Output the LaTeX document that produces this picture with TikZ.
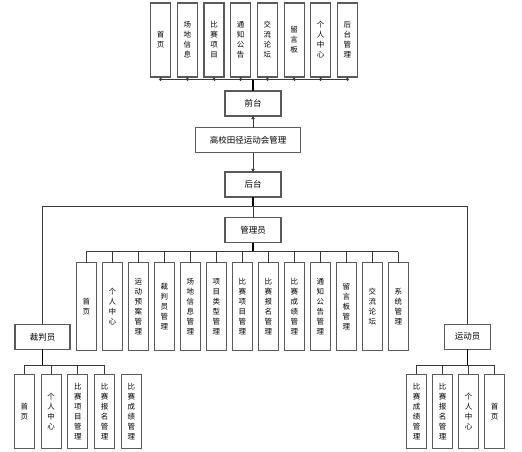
\documentclass[tikz,border=0pt]{standalone}
\usepackage{fontspec}
\newfontfamily\cjk{Noto Sans CJK SC}
\usetikzlibrary{arrows.meta,positioning}
\definecolor{boxline}{HTML}{5A5A5A}
\definecolor{wire}{HTML}{3A3A3A}
\tikzset{
    every picture/.style={line cap=butt,line join=miter},
    menubox/.style={draw=boxline,fill=white,line width=1.1pt,
      minimum width=20pt,inner sep=0pt,outer sep=0pt,
      font=\cjk\fontsize{7.5}{10}\selectfont,align=center},
    rolebox/.style={draw=boxline,fill=white,line width=1.1pt,
      minimum width=56pt,minimum height=25pt,inner sep=0pt,outer sep=0pt,
      font=\cjk\fontsize{8.5}{10}\selectfont},
    trunk/.style={draw=black,line width=1.4pt},
    branch/.style={draw=wire,line width=0.75pt},
    uparrow/.style={branch,-{Triangle[length=3.2pt,width=3.6pt]}}
}

\begin{document}
\begin{tikzpicture}[x=1pt,y=-1pt]
  \useasboundingbox (0,0) rectangle (522,451);

  % front-end menu
  \foreach \lbl [count=\i from 0] in {{首\\页},{场\\地\\信\\息},{比\\赛\\项\\目},
      {通\\知\\公\\告},{交\\流\\论\\坛},{留\\言\\板},{个\\人\\中\\心},{后\\台\\管\\理}}
    \node[menubox,minimum height=74pt] (front\i) at ({160.7+26.67*\i},40) {\lbl};

  \node[rolebox] (qian) at (253,103.5) {前台};
  \node[rolebox,minimum width=105pt] (sys) at (248.2,140.2) {高校田径运动会管理};
  \node[rolebox] (hou) at (253,184.5) {后台};

  \coordinate (fbus) at (253,79.7);
  \draw[trunk] (qian.north) -- (fbus);
  \draw[branch] (front0.south |- fbus) -- (front7.south |- fbus);
  \foreach \i in {0,...,7}
    \draw[uparrow] (front\i.south |- fbus) -- (front\i.south);
  \draw[uparrow] (qian.south |- sys.north) -- (qian.south);
  \draw[uparrow] (hou.north |- sys.south) -- (hou.north);

  % back-end roles
  \node[rolebox] (admin) at (253,230) {管理员};
  \node[rolebox,minimum width=55pt] (judge) at (42.5,336.8) {裁判员};
  \node[rolebox,minimum width=46pt] (athlete) at (467.5,336.8) {运动员};

  \coordinate (bbus) at (253,206);
  \draw[trunk] (hou.south) -- (bbus);
  \draw[branch] (bbus) -- (admin.north);
  \draw[branch] (judge.north) -- (judge.north |- bbus) -- (athlete.north |- bbus)
    -- (athlete.north);

  % admin menu
  \foreach \lbl [count=\i from 0] in {{首\\页},{个\\人\\中\\心},{运\\动\\预\\案\\管\\理},
      {裁\\判\\员\\管\\理},{场\\地\\信\\息\\管\\理},{项\\目\\类\\型\\管\\理},
      {比\\赛\\项\\目\\管\\理},{比\\赛\\报\\名\\管\\理},{比\\赛\\成\\绩\\管\\理},
      {通\\知\\公\\告\\管\\理},{留\\言\\板\\管\\理},{交\\流\\论\\坛},{系\\统\\管\\理}}
    \node[menubox,minimum height=87.5pt] (adm\i) at ({86.3+26*\i},306.3) {\lbl};
  \coordinate (abus) at (253,251.7);
  \draw[trunk] (admin.south) -- (abus);
  \draw[branch] (adm0.north |- abus) -- (adm12.north |- abus);
  \foreach \i in {0,...,12}
    \draw[branch] (adm\i.north |- abus) -- (adm\i.north);

  % judge menu
  \foreach \lbl [count=\i from 0] in {{首\\页},{个\\人\\中\\心},{比\\赛\\项\\目\\管\\理},
      {比\\赛\\报\\名\\管\\理},{比\\赛\\成\\绩\\管\\理}}
    \node[menubox,minimum height=74pt] (jud\i) at ({24.3+26.75*\i},411.3) {\lbl};
  \coordinate (jbus) at (42.5,365);
  \draw[trunk] (judge.south) -- (jbus);
  \draw[branch] (jud0.north |- jbus) -- (jud3.north |- jbus);
  \foreach \i in {0,...,3}
    \draw[branch] (jud\i.north |- jbus) -- (jud\i.north);

  % athlete menu
  \foreach \lbl [count=\i from 0] in {{比\\赛\\成\\绩\\管\\理},{比\\赛\\报\\名\\管\\理},
      {个\\人\\中\\心},{首\\页}}
    \node[menubox,minimum height=74pt] (ath\i) at ({416.7+26*\i},411.3) {\lbl};
  \coordinate (tbus) at (467.5,365);
  \draw[trunk] (athlete.south) -- (tbus);
  \draw[branch] (ath0.north |- tbus) -- (ath3.north |- tbus);
  \foreach \i in {0,...,3}
    \draw[branch] (ath\i.north |- tbus) -- (ath\i.north);
\end{tikzpicture}
\end{document}
